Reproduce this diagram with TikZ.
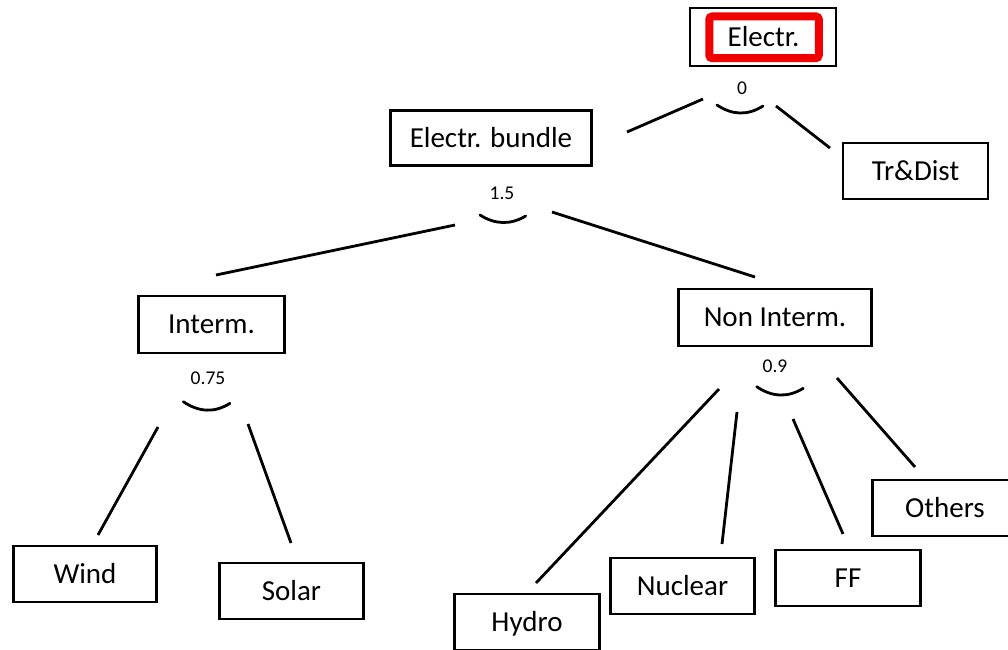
\documentclass[tikz,border=0pt]{standalone}
\usepackage{fontspec}
\setmainfont{Carlito}
\definecolor{boxred}{RGB}{240,0,0}
\begin{document}
\begin{tikzpicture}[x=1pt,y=-1pt,
  box/.style={draw=black,line width=2.6pt,inner sep=0pt,
    font=\fontsize{29}{31}\selectfont,text height=18.7pt,text depth=0pt},
  smallbox/.style={box,minimum width=145pt,minimum height=56pt},
  redbox/.style={draw=boxred,line width=8pt,rounded corners=3pt,inner sep=0pt,
    minimum width=109.5pt,minimum height=41.7pt},
  num/.style={inner sep=0pt,font=\fontsize{19.5}{21}\selectfont,text height=12.3pt,text depth=0pt},
  conn/.style={line width=2.8pt},
  nest/.style={line width=2.8pt,line cap=round},
]
\useasboundingbox (0,0) rectangle (1008,649);
\clip (0,0) rectangle (1008,649);
\fill[white] (0,0) rectangle (1008,649);

% boxes
\node[box,minimum width=146pt,minimum height=58pt] (electr) at (763,37) {};
\node[redbox] (electrred) at (764,37.3) {};
\node[inner sep=0pt,font=\fontsize{29}{31}\selectfont,text height=18.7pt,text depth=0pt] (electrtext) at (763.5,37.5) {Electr.};
\node[box,minimum width=201pt,minimum height=55pt] (bundle) at (491,138) {Electr. bundle};
\node[smallbox] (trdist) at (915.5,171) {Tr\&Dist};
\node[smallbox,minimum width=146pt,minimum height=57pt] (interm) at (211.5,324.5) {Interm.};
\node[box,minimum width=193pt,minimum height=57pt] (noninterm) at (775,317.5) {Non Interm.};
\node[smallbox,minimum width=143pt] (wind) at (85,574) {Wind};
\node[smallbox,minimum width=144pt] (solar) at (291.5,591) {Solar};
\node[smallbox] (hydro) at (527,622) {Hydro};
\node[smallbox,minimum width=144pt] (nuclear) at (682.5,586) {Nuclear};
\node[smallbox] (ff) at (848,578) {FF};
\node[smallbox] (others) at (945,508) {Others};

% elasticity labels
\node[num] (n0) at (742,88) {0};
\node[num] (n15) at (502,193) {1.5};
\node[num] (n075) at (208,378) {0.75};
\node[num] (n09) at (775,366) {0.9};

% nest arcs
\draw[nest] (717,105) .. controls (732.3,115.3) and (747.7,115.7) .. (763,106);
\draw[nest] (480,215) .. controls (495.2,224.7) and (510.5,225) .. (525.7,216);
\draw[nest] (183.3,401.7) .. controls (198.9,412.2) and (214.4,413.1) .. (230,403.3);
\draw[nest] (756.7,386.7) .. controls (772.2,397.2) and (787.8,397.8) .. (803.3,388.3);

% connector end points
\coordinate (e0a) at (703,99);   \coordinate (e0b) at (627,132);
\coordinate (e1a) at (776,106);  \coordinate (e1b) at (830,148);
\coordinate (b0a) at (455,225);  \coordinate (b0b) at (216,275);
\coordinate (b1a) at (552,212);  \coordinate (b1b) at (755,277);
\coordinate (i0a) at (158,427);  \coordinate (i0b) at (98,535);
\coordinate (i1a) at (248,424);  \coordinate (i1b) at (291,543);
\coordinate (h0a) at (719,389);  \coordinate (h0b) at (536,583);
\coordinate (u0a) at (737,412);  \coordinate (u0b) at (722,544);
\coordinate (f0a) at (793,419);  \coordinate (f0b) at (843,534);
\coordinate (o0a) at (837,378);  \coordinate (o0b) at (915,467);

\draw[conn] (e0a) -- (e0b);
\draw[conn] (e1a) -- (e1b);
\draw[conn] (b0a) -- (b0b);
\draw[conn] (b1a) -- (b1b);
\draw[conn] (i0a) -- (i0b);
\draw[conn] (i1a) -- (i1b);
\draw[conn] (h0a) -- (h0b);
\draw[conn] (u0a) -- (u0b);
\draw[conn] (f0a) -- (f0b);
\draw[conn] (o0a) -- (o0b);
\end{tikzpicture}
\end{document}
